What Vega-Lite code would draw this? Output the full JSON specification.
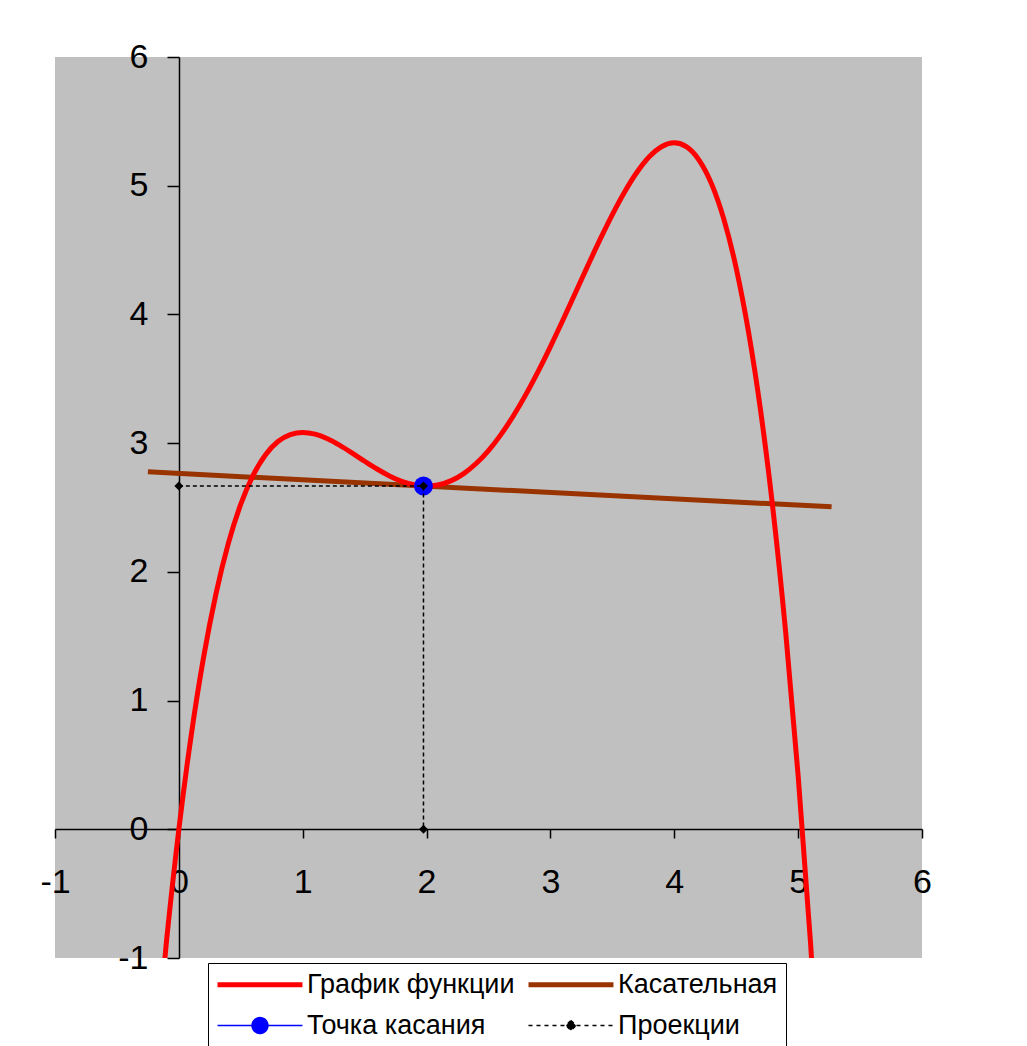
{
  "$schema": "https://vega.github.io/schema/vega-lite/v6.json",
  "width": 867,
  "height": 901,
  "autosize": {"type": "none"},
  "padding": {"left": 55, "top": 57, "right": 105, "bottom": 88},
  "background": "#ffffff",
  "config": {
    "view": {"fill": "#c0c0c0", "stroke": null},
    "font": "Liberation Sans",
    "axis": {
      "grid": false,
      "domainColor": "#000000",
      "domainWidth": 1.5,
      "tickColor": "#000000",
      "tickWidth": 1.5,
      "labelColor": "#000000",
      "labelFont": "Liberation Sans",
      "labelFontSize": 34,
      "title": null
    }
  },
  "datasets": {
    "func": [
      {"x": -0.2, "y": -1.899, "series": "График функции"},
      {"x": -0.1, "y": -0.8724, "series": "График функции"},
      {"x": 0.0, "y": 0.0, "series": "График функции"},
      {"x": 0.1, "y": 0.7323, "series": "График функции"},
      {"x": 0.2, "y": 1.3383, "series": "График функции"},
      {"x": 0.3, "y": 1.831, "series": "График функции"},
      {"x": 0.4, "y": 2.2229, "series": "График функции"},
      {"x": 0.5, "y": 2.526, "series": "График функции"},
      {"x": 0.6, "y": 2.7516, "series": "График функции"},
      {"x": 0.7, "y": 2.9103, "series": "График функции"},
      {"x": 0.8, "y": 3.0123, "series": "График функции"},
      {"x": 0.9, "y": 3.067, "series": "График функции"},
      {"x": 1.0, "y": 3.0833, "series": "График функции"},
      {"x": 1.1, "y": 3.0696, "series": "График функции"},
      {"x": 1.2, "y": 3.0336, "series": "График функции"},
      {"x": 1.3, "y": 2.9823, "series": "График функции"},
      {"x": 1.4, "y": 2.9223, "series": "График функции"},
      {"x": 1.5, "y": 2.8594, "series": "График функции"},
      {"x": 1.6, "y": 2.7989, "series": "График функции"},
      {"x": 1.7, "y": 2.7456, "series": "График функции"},
      {"x": 1.8, "y": 2.7036, "series": "График функции"},
      {"x": 1.9, "y": 2.6763, "series": "График функции"},
      {"x": 2.0, "y": 2.6667, "series": "График функции"},
      {"x": 2.1, "y": 2.677, "series": "График функции"},
      {"x": 2.2, "y": 2.7089, "series": "График функции"},
      {"x": 2.3, "y": 2.7636, "series": "График функции"},
      {"x": 2.4, "y": 2.8416, "series": "График функции"},
      {"x": 2.5, "y": 2.9427, "series": "График функции"},
      {"x": 2.6, "y": 3.0663, "series": "График функции"},
      {"x": 2.7, "y": 3.211, "series": "График функции"},
      {"x": 2.8, "y": 3.3749, "series": "График функции"},
      {"x": 2.9, "y": 3.5556, "series": "График функции"},
      {"x": 3.0, "y": 3.75, "series": "График функции"},
      {"x": 3.1, "y": 3.9543, "series": "График функции"},
      {"x": 3.2, "y": 4.1643, "series": "График функции"},
      {"x": 3.3, "y": 4.375, "series": "График функции"},
      {"x": 3.4, "y": 4.5809, "series": "График функции"},
      {"x": 3.5, "y": 4.776, "series": "График функции"},
      {"x": 3.6, "y": 4.9536, "series": "График функции"},
      {"x": 3.7, "y": 5.1063, "series": "График функции"},
      {"x": 3.8, "y": 5.2263, "series": "График функции"},
      {"x": 3.9, "y": 5.305, "series": "График функции"},
      {"x": 4.0, "y": 5.3333, "series": "График функции"},
      {"x": 4.1, "y": 5.3016, "series": "График функции"},
      {"x": 4.2, "y": 5.1996, "series": "График функции"},
      {"x": 4.3, "y": 5.0163, "series": "График функции"},
      {"x": 4.4, "y": 4.7403, "series": "График функции"},
      {"x": 4.5, "y": 4.3594, "series": "График функции"},
      {"x": 4.6, "y": 3.8609, "series": "График функции"},
      {"x": 4.7, "y": 3.2316, "series": "График функции"},
      {"x": 4.8, "y": 2.4576, "series": "График функции"},
      {"x": 4.9, "y": 1.5243, "series": "График функции"},
      {"x": 5.0, "y": 0.4167, "series": "График функции"},
      {"x": 5.1, "y": -0.881, "series": "График функции"},
      {"x": 5.2, "y": -2.3851, "series": "График функции"}
    ],
    "tangent": [
      {"x": -0.25, "y": 2.777, "series": "Касательная"},
      {"x": 5.27, "y": 2.505, "series": "Касательная"}
    ],
    "point": [
      {"x": 1.975, "y": 2.667, "series": "Точка касания"}
    ],
    "proj": [
      {"x": 0, "y": 2.667, "k": 1, "series": "Проекции"},
      {"x": 1.975, "y": 2.667, "k": 2, "series": "Проекции"},
      {"x": 1.975, "y": 0, "k": 3, "series": "Проекции"}
    ]
  },
  "encoding": {
    "x": {
      "field": "x",
      "type": "quantitative",
      "scale": {"domain": [-1, 6], "nice": false, "zero": false},
      "axis": {
        "values": [-1, 0, 1, 2, 3, 4, 5, 6],
        "labelExpr": "'' + datum.value",
        "offset": -129,
        "tickSize": 9,
        "labelPadding": 27,
        "labelFlush": false,
        "labelOverlap": false
      }
    },
    "y": {
      "field": "y",
      "type": "quantitative",
      "scale": {"domain": [-1, 6], "nice": false, "zero": false},
      "axis": {
        "values": [-1, 0, 1, 2, 3, 4, 5, 6],
        "labelExpr": "'' + datum.value",
        "offset": -124,
        "tickSize": 12,
        "labelPadding": 19,
        "labelFlush": false,
        "labelOverlap": false
      }
    },
    "color": {
      "field": "series",
      "type": "nominal",
      "scale": {
        "domain": ["График функции", "Касательная", "Точка касания", "Проекции"],
        "range": ["#ff0000", "#993300", "#0000ff", "#000000"]
      }
    }
  },
  "layer": [
    {
      "data": {"name": "tangent"},
      "mark": {"type": "line", "strokeWidth": 5, "clip": true},
      "encoding": {
        "color": {
          "field": "series",
          "type": "nominal",
          "scale": {
            "domain": ["График функции", "Касательная", "Точка касания", "Проекции"],
            "range": ["#ff0000", "#993300", "#0000ff", "#000000"]
          },
          "legend": {
            "title": null,
            "orient": "none",
            "legendX": 153,
            "legendY": 906,
            "direction": "horizontal",
            "columns": 2,
            "gridAlign": "all",
            "columnPadding": 3,
            "rowPadding": 13,
            "padding": 8,
            "strokeColor": "#000000",
            "fillColor": "#ffffff",
            "cornerRadius": 0,
            "symbolSize": 576,
            "labelOffset": 64,
            "labelFont": "Liberation Sans",
            "labelFontSize": 27,
            "labelColor": "#000000",
            "labelLimit": 400,
            "encode": {
              "symbols": {
                "update": {
                  "shape": {"signal": "datum.value === 'Точка касания' ? 'M-1,0H6.08M1.88,0A0.66,0.66 0 1,0 3.2,0A0.66,0.66 0 1,0 1.88,0Z' : datum.value === 'Проекции' ? 'M-1,0H6.08M2.54,-0.42L2.96,0L2.54,0.42L2.12,0Z' : 'M-1,0H6.08'"},
                  "stroke": {"signal": "datum.value === 'График функции' ? '#ff0000' : datum.value === 'Касательная' ? '#993300' : datum.value === 'Точка касания' ? '#0000ff' : '#000000'"},
                  "fill": {"signal": "datum.value === 'Точка касания' ? '#0000ff' : datum.value === 'Проекции' ? '#000000' : 'transparent'"},
                  "strokeWidth": {"signal": "datum.value === 'График функции' || datum.value === 'Касательная' ? 5 : 1.5"},
                  "strokeDash": {"signal": "datum.value === 'Проекции' ? [4, 4] : [1, 0]"},
                  "opacity": {"value": 1}
                }
              }
            }
          }
        }
      }
    },
    {
      "data": {"name": "func"},
      "mark": {"type": "line", "strokeWidth": 5, "clip": true, "interpolate": "monotone"}
    },
    {
      "data": {"name": "point"},
      "mark": {"type": "point", "shape": "circle", "filled": true, "size": 360, "opacity": 1}
    },
    {
      "data": {"name": "proj"},
      "mark": {"type": "line", "strokeWidth": 1.5, "strokeDash": [4, 3]},
      "encoding": {"order": {"field": "k", "type": "quantitative"}}
    },
    {
      "data": {"name": "proj"},
      "mark": {"type": "point", "shape": "diamond", "filled": true, "size": 80, "opacity": 1}
    }
  ]
}
